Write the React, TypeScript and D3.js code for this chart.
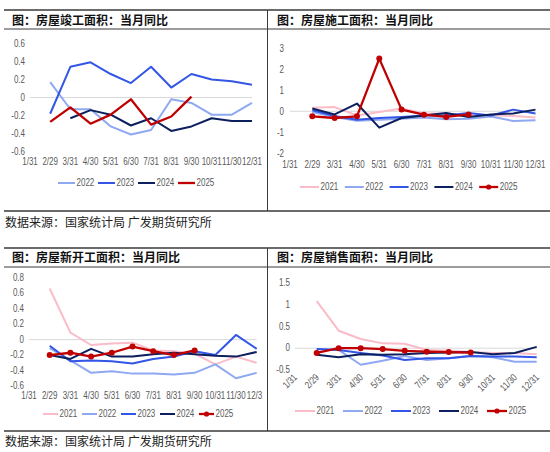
import React, { useEffect, useRef } from "react";
import * as d3 from "d3";

// x categories (month ends)
const months = ["1/31", "2/29", "3/31", "4/30", "5/31", "6/30", "7/31", "8/31", "9/30", "10/31", "11/30", "12/31"];
const yearColors: Record<string, string> = {
  "2021": "#f9bcc8",
  "2022": "#8fa8f2",
  "2023": "#3356e6",
  "2024": "#0c1f5e",
  "2025": "#c00000",
};

type V = number | null;
const _ = null;

// 房屋竣工面积：当月同比
const completion2022: V[] = [_, 0.17, -0.13, -0.13, -0.32, -0.41, -0.36, -0.02, -0.06, -0.19, -0.19, -0.06];
const completion2023: V[] = [_, -0.18, 0.34, 0.39, 0.26, 0.16, 0.34, 0.11, 0.26, 0.2, 0.18, 0.14];
const completion2024: V[] = [_, _, -0.23, -0.14, -0.19, -0.31, -0.23, -0.37, -0.32, -0.23, -0.26, -0.26];
const completion2025: V[] = [_, -0.27, -0.11, -0.29, -0.19, -0.02, -0.3, -0.21, 0.01, _, _, _];

// 房屋施工面积：当月同比
const construction2021: V[] = [_, 0.17, 0.2, -0.2, -0.03, 0.13, -0.1, -0.1, -0.2, -0.2, -0.22, -0.3];
const construction2022: V[] = [_, -0.03, -0.27, -0.45, -0.4, -0.35, -0.3, -0.38, -0.35, -0.25, -0.46, -0.43];
const construction2023: V[] = [_, 0.05, -0.22, -0.4, -0.32, -0.27, -0.2, -0.2, -0.08, -0.2, 0.08, -0.1];
const construction2024: V[] = [_, 0.13, -0.15, 0.37, -0.78, -0.32, -0.2, -0.08, -0.27, -0.15, -0.1, 0.08];
const construction2025: V[] = [_, -0.24, -0.32, -0.24, 2.51, 0.08, -0.16, -0.27, -0.15, _, _, _];

// 房屋新开工面积：当月同比
const starts2021: V[] = [_, 0.66, 0.09, -0.07, -0.05, -0.04, -0.14, -0.15, -0.18, -0.32, -0.22, -0.3];
const starts2022: V[] = [_, -0.11, -0.27, -0.43, -0.41, -0.44, -0.44, -0.45, -0.43, -0.32, -0.5, -0.43];
const starts2023: V[] = [_, -0.08, -0.28, -0.27, -0.28, -0.31, -0.25, -0.22, -0.15, -0.2, 0.06, -0.12];
const starts2024: V[] = [_, -0.2, -0.25, -0.12, -0.22, -0.22, -0.19, -0.17, -0.19, -0.21, -0.22, -0.16];
const starts2025: V[] = [_, -0.2, -0.17, -0.22, -0.17, -0.09, -0.15, -0.2, -0.14, _, _, _];

// 房屋销售面积：当月同比
const sales2021: V[] = [_, 1.08, 0.4, 0.21, 0.11, 0.1, -0.04, -0.06, -0.09, -0.11, -0.11, -0.14];
const sales2022: V[] = [_, -0.02, -0.04, -0.38, -0.29, -0.18, -0.27, -0.23, -0.18, -0.21, -0.31, -0.31];
const sales2023: V[] = [_, -0.02, -0.04, -0.11, -0.17, -0.27, -0.23, -0.23, -0.18, -0.19, -0.19, -0.21];
const sales2024: V[] = [_, -0.15, -0.21, -0.14, -0.15, -0.14, -0.11, -0.1, -0.09, -0.14, -0.11, 0.03];
const sales2025: V[] = [_, -0.11, 0.0, 0.0, -0.02, -0.06, -0.08, -0.09, -0.1, _, _, _];

const completionTicks = [-0.6, -0.4, -0.2, 0, 0.2, 0.4, 0.6];
const constructionTicks = [-2, -1, 0, 1, 2, 3];
const startsTicks = [-0.6, -0.4, -0.2, 0, 0.2, 0.4, 0.6, 0.8];
const salesTicks = [-0.5, 0, 0.5, 1, 1.5];

const sourceText = "数据来源：国家统计局 广发期货研究所";

interface Panel {
  title: string;
  titleX: number;
  titleY: number;
  series: { year: string; values: V[] }[];
  ticks: number[];
  xRange: [number, number];
  yRange: [number, number];
  yLabelX: number;
  xLabelY: number;
  rotate: boolean;
  markers: boolean;
  legendX: number;
  legendY: number;
  legendStep: number;
  legendLine: number;
  clip: [number, number, number, number];
}

const panels: Panel[] = [
  {
    title: "图：房屋竣工面积：当月同比",
    titleX: 12, titleY: 25,
    series: [
      { year: "2022", values: completion2022 },
      { year: "2023", values: completion2023 },
      { year: "2024", values: completion2024 },
      { year: "2025", values: completion2025 },
    ],
    ticks: completionTicks,
    xRange: [30, 252], yRange: [151.7, 43.3],
    yLabelX: 25, xLabelY: 165, rotate: false, markers: false,
    legendX: 58, legendY: 183, legendStep: 40, legendLine: 17,
    clip: [0, 30, 264, 180],
  },
  {
    title: "图：房屋施工面积：当月同比",
    titleX: 277, titleY: 25,
    series: [
      { year: "2021", values: construction2021 },
      { year: "2022", values: construction2022 },
      { year: "2023", values: construction2023 },
      { year: "2024", values: construction2024 },
      { year: "2025", values: construction2025 },
    ],
    ticks: constructionTicks,
    xRange: [290, 535.5], yRange: [153.3, 48.3],
    yLabelX: 284, xLabelY: 168, rotate: false, markers: true,
    legendX: 300, legendY: 187, legendStep: 44.8, legendLine: 19,
    clip: [272, 30, 274, 180],
  },
  {
    title: "图：房屋新开工面积：当月同比",
    titleX: 12, titleY: 262,
    series: [
      { year: "2021", values: starts2021 },
      { year: "2022", values: starts2022 },
      { year: "2023", values: starts2023 },
      { year: "2024", values: starts2024 },
      { year: "2025", values: starts2025 },
    ],
    ticks: startsTicks,
    xRange: [29, 256.7], yRange: [386, 277.7],
    yLabelX: 24, xLabelY: 399, rotate: false, markers: true,
    legendX: 43, legendY: 414, legendStep: 39, legendLine: 15,
    clip: [0, 268, 263, 162],
  },
  {
    title: "图：房屋销售面积：当月同比",
    titleX: 277, titleY: 262,
    series: [
      { year: "2021", values: sales2021 },
      { year: "2022", values: sales2022 },
      { year: "2023", values: sales2023 },
      { year: "2024", values: sales2024 },
      { year: "2025", values: sales2025 },
    ],
    ticks: salesTicks,
    xRange: [294.7, 536.7], yRange: [370, 282.7],
    yLabelX: 290, xLabelY: 383, rotate: true, markers: true,
    legendX: 295, legendY: 411, legendStep: 48, legendLine: 20,
    clip: [276, 268, 274, 162],
  },
];

const labelFont = "'Liberation Sans', Arial, sans-serif";
const cjkFont = "'Noto Sans CJK SC', sans-serif";
// the source chart uses a narrow face; squeeze glyphs horizontally
const narrow = 0.8;

export default function App() {
  const svgRef = useRef<SVGSVGElement>(null);

  useEffect(() => {
    if (!svgRef.current) return;
    const svg = d3.select(svgRef.current);
    svg.selectAll("*").remove();

    svg.append("rect").attr("width", 550).attr("height", 452).attr("fill", "#fff");

    // frame lines
    const frame = svg.append("g").attr("stroke", "#3a3a3a").attr("fill", "none");
    [10, 211, 248, 431].forEach((y) => {
      frame.append("line").attr("x1", 4).attr("x2", 550).attr("y1", y).attr("y2", y).attr("stroke-width", 1.4);
    });
    [29, 267].forEach((y) => {
      frame.append("line").attr("x1", 4).attr("x2", 550).attr("y1", y).attr("y2", y).attr("stroke-width", 1);
    });
    frame.append("line").attr("x1", 267.5).attr("x2", 267.5).attr("y1", 10).attr("y2", 211);
    frame.append("line").attr("x1", 267.5).attr("x2", 267.5).attr("y1", 248).attr("y2", 431);

    [222, 441].forEach((y) => {
      svg.append("text")
        .attr("x", 5).attr("y", y + 4.5)
        .style("font-family", cjkFont).style("font-size", "12px")
        .attr("fill", "#222")
        .text(sourceText);
    });

    const defs = svg.append("defs");

    panels.forEach((p, i) => {
      defs.append("clipPath").attr("id", `clip${i}`)
        .append("rect")
        .attr("x", p.clip[0]).attr("y", p.clip[1])
        .attr("width", p.clip[2]).attr("height", p.clip[3]);

      svg.append("text")
        .attr("x", p.titleX).attr("y", p.titleY)
        .style("font-family", cjkFont).style("font-size", "12px").style("font-weight", "bold")
        .attr("fill", "#111")
        .text(p.title);

      const g = svg.append("g").attr("clip-path", `url(#clip${i})`);

      const x = d3.scalePoint<string>().domain(months).range(p.xRange);
      const y = d3.scaleLinear()
        .domain([p.ticks[0], p.ticks[p.ticks.length - 1]])
        .range(p.yRange);

      // zero axis line
      g.append("line")
        .attr("x1", p.xRange[0]).attr("x2", p.xRange[1])
        .attr("y1", y(0)).attr("y2", y(0))
        .attr("stroke", "#d9d9d9").attr("stroke-width", 1);

      // y labels
      g.selectAll(".ylab").data(p.ticks).join("text")
        .attr("transform", (d) => `translate(${p.yLabelX},${y(d) + 3.3}) scale(${narrow},1)`)
        .attr("text-anchor", "end")
        .style("font-family", labelFont).style("font-size", "10px")
        .attr("fill", "#595959")
        .text((d) => d3.format("")(d).replace("−", "-"));

      // x labels
      if (p.rotate) {
        g.selectAll(".xlab").data(months).join("text")
          .attr("transform", (d) => `translate(${(x(d) as number) + 3},${p.xLabelY - 5}) rotate(-45) scale(${narrow},1)`)
          .attr("text-anchor", "end")
          .style("font-family", labelFont).style("font-size", "10px")
          .attr("fill", "#595959")
          .text((d) => d);
      } else {
        g.selectAll(".xlab").data(months).join("text")
          .attr("transform", (d) => `translate(${x(d) as number},${p.xLabelY}) scale(${narrow},1)`)
          .attr("text-anchor", "middle")
          .style("font-family", labelFont).style("font-size", "10px")
          .attr("fill", "#595959")
          .text((d) => d);
      }

      const line = d3.line<V>()
        .defined((d) => d !== null)
        .x((_d, k) => x(months[k]) as number)
        .y((d) => y(d as number));

      p.series.forEach((s) => {
        const isRed = s.year === "2025";
        g.append("path")
          .datum(s.values)
          .attr("d", line)
          .attr("fill", "none")
          .attr("stroke", yearColors[s.year])
          .attr("stroke-width", isRed ? 2.3 : 2)
          .attr("stroke-linejoin", "round");
        if (isRed && p.markers) {
          g.selectAll(null)
            .data(s.values.map((v, k) => ({ v, k })).filter((d) => d.v !== null))
            .join("circle")
            .attr("cx", (d) => x(months[d.k]) as number)
            .attr("cy", (d) => y(d.v as number))
            .attr("r", 3)
            .attr("fill", yearColors[s.year]);
        }
      });

      // legend
      p.series.forEach((s, k) => {
        const lx = p.legendX + k * p.legendStep;
        const isRed = s.year === "2025";
        g.append("line")
          .attr("x1", lx).attr("x2", lx + p.legendLine)
          .attr("y1", p.legendY).attr("y2", p.legendY)
          .attr("stroke", yearColors[s.year])
          .attr("stroke-width", isRed ? 2.3 : 2);
        if (isRed && p.markers) {
          g.append("circle")
            .attr("cx", lx + p.legendLine / 2).attr("cy", p.legendY)
            .attr("r", 2.6).attr("fill", yearColors[s.year]);
        }
        g.append("text")
          .attr("transform", `translate(${lx + p.legendLine + 1.5},${p.legendY + 3.4}) scale(${narrow},1)`)
          .style("font-family", labelFont).style("font-size", "10px")
          .attr("fill", "#595959")
          .text(s.year);
      });
    });
  }, []);

  return (
    <div style={{ position: "absolute", left: 0, top: 0, width: 550, height: 452 }}>
      <svg ref={svgRef} width={550} height={452} style={{ display: "block" }}></svg>
    </div>
  );
}
